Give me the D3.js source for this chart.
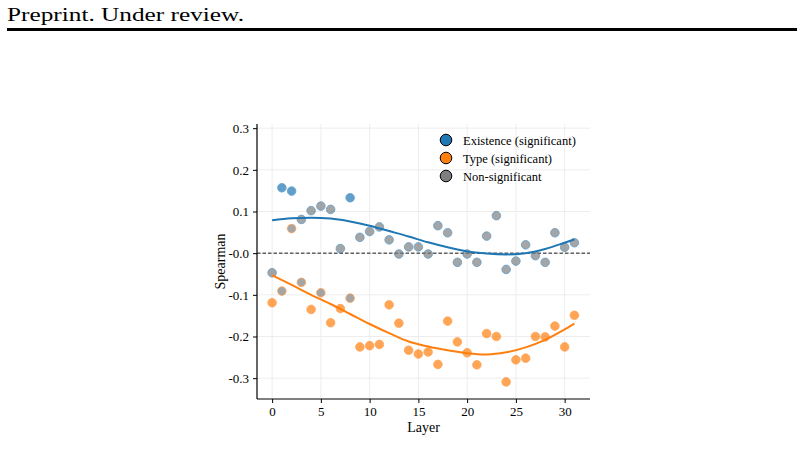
<!DOCTYPE html>
<html>
<head>
<meta charset="utf-8">
<script src="https://cdn.jsdelivr.net/npm/d3@7/dist/d3.min.js"></script>
<style>
  body { margin: 0; background: #fff; }
  text { font-family: "Liberation Serif", "DejaVu Serif", serif; }
</style>
</head>
<body>
<div id="chart"></div>
<script>
// layers 0..31
let layers = d3.range(32);

// existence probe spearman + significance
let existVals = [-0.047, 0.157, 0.149, 0.081, 0.102, 0.113, 0.105, 0.011, 0.133, 0.038,
  0.052, 0.063, 0.032, -0.002, 0.015, 0.015, -0.002, 0.066, 0.049, -0.022,
  -0.002, -0.022, 0.041, 0.090, -0.039, -0.019, 0.020, -0.006, -0.022, 0.049,
  0.014, 0.025];
let existSig = [0, 1, 1, 0, 0, 0, 0, 0, 1, 0, 0, 0, 0, 0, 0, 0, 0, 0, 0, 0,
  0, 0, 0, 0, 0, 0, 0, 0, 0, 0, 0, 0];

// type probe spearman + significance
let typeVals = [-0.119, -0.091, 0.059, -0.070, -0.135, -0.095, -0.167, -0.133, -0.108, -0.225,
  -0.222, -0.219, -0.124, -0.168, -0.233, -0.242, -0.237, -0.267, -0.163, -0.213,
  -0.239, -0.268, -0.193, -0.200, -0.309, -0.256, -0.252, -0.200, -0.201, -0.175,
  -0.225, -0.149];
let typeSig = [1, 0, 0, 0, 1, 0, 1, 1, 0, 1, 1, 1, 1, 1, 1, 1, 1, 1, 1, 1,
  1, 1, 1, 1, 1, 1, 1, 1, 1, 1, 1, 1];

// trend curves
let trendX = [0, 2, 4, 6, 8, 10, 12, 14, 16, 18, 20, 22, 24, 26, 28, 30, 31];
let existTrend = [0.079, 0.084, 0.085, 0.083, 0.076, 0.066, 0.053, 0.040, 0.026, 0.014,
  0.004, -0.001, -0.003, 0.000, 0.010, 0.025, 0.033];
let typeTrend = [-0.053, -0.076, -0.100, -0.122, -0.146, -0.170, -0.192, -0.212, -0.224, -0.233,
  -0.240, -0.243, -0.238, -0.226, -0.208, -0.183, -0.169];

let xTicks = [0, 5, 10, 15, 20, 25, 30];
let yTicks = [0.3, 0.2, 0.1, 0.0, -0.1, -0.2, -0.3];
let legendLabels = ["Existence (significant)", "Type (significant)", "Non-significant"];

let blue = "#1f77b4", orange = "#ff7f0e", grey = "#7f7f7f";

let W = 804, H = 465;
let svg = d3.select("#chart").append("svg")
  .attr("width", W).attr("height", H);

// page header
svg.append("text")
  .attr("x", 7).attr("y", 21)
  .attr("font-size", 19.5)
  .attr("textLength", 237).attr("lengthAdjust", "spacingAndGlyphs")
  .attr("fill", "#000")
  .text("Preprint. Under review.");
svg.append("rect")
  .attr("x", 7).attr("y", 28).attr("width", 790).attr("height", 3)
  .attr("fill", "#000");

// plot area
let pLeft = 257, pRight = 590, pTop = 124, pBottom = 399;

let x = d3.scaleLinear().domain([-1.55, 32.6]).range([pLeft, pRight]);
let y = d3.scaleLinear().domain([-0.35, 0.31]).range([pBottom, pTop]);

let g = svg.append("g");

// grid
g.selectAll("line.vg").data(xTicks).enter().append("line")
  .attr("x1", d => x(d)).attr("x2", d => x(d))
  .attr("y1", pTop).attr("y2", pBottom)
  .attr("stroke", "#ebebeb").attr("stroke-width", 0.9);
g.selectAll("line.hg").data(yTicks).enter().append("line")
  .attr("x1", pLeft).attr("x2", pRight)
  .attr("y1", d => y(d)).attr("y2", d => y(d))
  .attr("stroke", "#ebebeb").attr("stroke-width", 0.9);

// zero line
g.append("line")
  .attr("x1", pLeft).attr("x2", pRight)
  .attr("y1", y(0)).attr("y2", y(0))
  .attr("stroke", "#000").attr("stroke-width", 0.9)
  .attr("stroke-dasharray", "3.5,2");

// points
function dots(vals, sig, col) {
  g.append("g").selectAll("circle").data(layers).enter().append("circle")
    .attr("cx", d => x(d))
    .attr("cy", d => y(vals[d]))
    .attr("r", 4.3)
    .attr("fill", d => sig[d] ? col : grey)
    .attr("stroke", col)
    .attr("stroke-width", 0.8)
    .attr("opacity", 0.7);
}
dots(existVals, existSig, blue);
dots(typeVals, typeSig, orange);

// trend lines
let line = d3.line().curve(d3.curveMonotoneX);
g.append("path")
  .attr("d", line(trendX.map((d, i) => [x(d), y(existTrend[i])])))
  .attr("fill", "none").attr("stroke", blue).attr("stroke-width", 2);
g.append("path")
  .attr("d", line(trendX.map((d, i) => [x(d), y(typeTrend[i])])))
  .attr("fill", "none").attr("stroke", orange).attr("stroke-width", 2);

// axes (hyphen minus like the source)
let fmt = d => (d <= 0 && d > -0.001 ? "-0.0" : d3.format(".1f")(d).replace("\u2212", "-"));
let xAxis = d3.axisBottom(x).tickValues(xTicks).tickSize(4).tickPadding(4);
let yAxis = d3.axisLeft(y).tickValues(yTicks).tickFormat(fmt).tickSize(4).tickPadding(4);

let gx = svg.append("g").attr("transform", "translate(0," + pBottom + ")").call(xAxis);
let gy = svg.append("g").attr("transform", "translate(" + pLeft + ",0)").call(yAxis);
[gx, gy].forEach(a => {
  a.select(".domain").attr("stroke", "#000").attr("stroke-width", 1.2);
  a.selectAll(".tick line").attr("stroke", "#000").attr("stroke-width", 1);
  a.selectAll(".tick text")
    .attr("font-family", "Liberation Serif, serif")
    .attr("font-size", 13).attr("fill", "#000");
});
// seaborn-style: domain lines without end caps
gx.select(".domain").attr("d", "M" + pLeft + ",0H" + pRight);
gy.select(".domain").attr("d", "M0," + pTop + "V" + pBottom);

// axis labels
svg.append("text")
  .attr("x", (pLeft + pRight) / 2).attr("y", 432)
  .attr("text-anchor", "middle").attr("font-size", 14)
  .text("Layer");
svg.append("text")
  .attr("transform", "translate(225," + ((pTop + pBottom) / 2) + ")rotate(-90)")
  .attr("text-anchor", "middle").attr("font-size", 14)
  .text("Spearman");

// legend
let legColors = [blue, orange, grey];
let leg = svg.append("g").attr("transform", "translate(446,140)");
leg.selectAll("circle").data(legendLabels).enter().append("circle")
  .attr("cx", 0).attr("cy", (d, i) => i * 18)
  .attr("r", 5.8)
  .attr("fill", (d, i) => legColors[i])
  .attr("stroke", "#000").attr("stroke-width", 1);
leg.selectAll("text").data(legendLabels).enter().append("text")
  .attr("x", 17).attr("y", (d, i) => i * 18 + 4.5)
  .attr("font-size", 12.5)
  .text(d => d);
</script>
</body>
</html>
